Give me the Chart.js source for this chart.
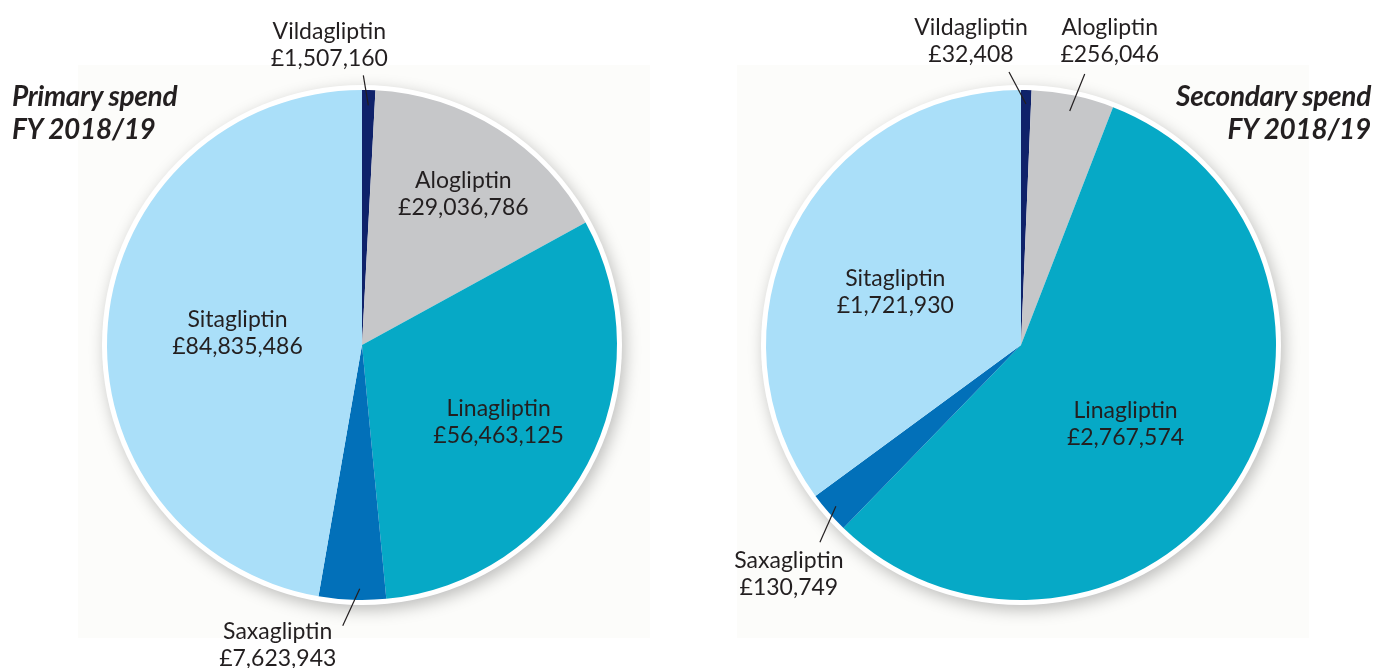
<!DOCTYPE html>
<html>
<head>
<meta charset="utf-8">
<script src="https://cdn.jsdelivr.net/npm/chart.js@4.4.1/dist/chart.umd.min.js"></script>
<style>
    html, body { margin: 0; padding: 0; background: #fff; }
    body { width: 1376px; height: 668px; position: relative; overflow: hidden; font-family: "Lato", sans-serif; }
    .box { position: absolute; top: 0; width: 688px; height: 668px; }
    .title {
        position: absolute; top: 79px; font-weight: 700; font-style: italic;
        font-size: 28px; line-height: 33px; color: #231f20; letter-spacing: -0.3px; z-index: 2;
    }
</style>
</head>
<body>
<div class="box" style="left:0"><canvas id="primaryChart"></canvas></div>
<div class="box" style="left:688px"><canvas id="secondaryChart"></canvas></div>
<div class="title" id="primaryTitle" style="left:12px;text-align:left"></div>
<div class="title" id="secondaryTitle" style="right:5px;text-align:right"></div>

<script>
const drugs = ["Vildagliptin", "Alogliptin", "Linagliptin", "Saxagliptin", "Sitagliptin"];
const primarySpend = [1507160, 29036786, 56463125, 7623943, 84835486];
const secondarySpend = [32408, 256046, 2767574, 130749, 1721930];
const primaryTitle = ["Primary spend", "FY 2018/19"];
const secondaryTitle = ["Secondary spend", "FY 2018/19"];

const colors = ["#0f226a", "#c6c7c9", "#06a9c6", "#0270b9", "#aadff9"];
const textColor = "#231f20";

// where each label sits: inside labels along the slice middle, outside ones with a leader line
const primaryLabels = [
    { out: true, frac: 0.94, dx: 0, dy: 0, lx: -5, ly: -30, tx: -39, ty: -61 },
    { frac: 0.71, dx: 5, dy: 2 },
    { frac: 0.615, dx: -2, dy: 3 },
    { out: true, frac: 0.957, dx: 7, dy: 0, lx: -17, ly: 37, tx: -82, ty: 56 },
    { frac: 0.49, dx: 0, dy: -2 }
];
const secondaryLabels = [
    { out: true, frac: 0.945, dx: 0, dy: 0, lx: -17, ly: -32, tx: -55, ty: -64 },
    { out: true, frac: 0.937, dx: 0, dy: 0, lx: 15, ly: -37, tx: 40, ty: -71 },
    { frac: 0.51, dx: -5, dy: 8 },
    { out: true, frac: 0.963, dx: 0, dy: 0, lx: -16, ly: 36, tx: -47, ty: 67 },
    { frac: 0.535, dx: -4, dy: 8 }
];

function money(v) {
    return "£" + v.toLocaleString("en-GB");
}

const pieDecor = {
    id: "pieDecor",
    beforeDraw(chart) {
        const arc = chart.getDatasetMeta(0).data[0];
        if (!arc) return;
        const { x, y } = arc.getProps(["x", "y"], true);
        const ctx = chart.ctx;
        ctx.save();
        ctx.fillStyle = "#fcfcfa";
        ctx.fillRect(x - 284, y - 280, 572, 573);
        ctx.restore();
    },
    beforeDatasetsDraw(chart) {
        const arc = chart.getDatasetMeta(0).data[0];
        if (!arc) return;
        const { x, y, outerRadius } = arc.getProps(["x", "y", "outerRadius"], true);
        const ctx = chart.ctx;
        ctx.save();
        ctx.shadowColor = "rgba(0,0,0,0.25)";
        ctx.shadowBlur = 16;
        ctx.shadowOffsetX = 3;
        ctx.shadowOffsetY = 5;
        ctx.fillStyle = "#fff";
        ctx.beginPath();
        ctx.arc(x, y, outerRadius + 5, 0, Math.PI * 2);
        ctx.fill();
        ctx.restore();
    },
    afterDatasetsDraw(chart, args, opts) {
        const ctx = chart.ctx;
        const values = chart.data.datasets[0].data;
        ctx.save();
        ctx.font = "23px Lato";
        ctx.fillStyle = textColor;
        ctx.strokeStyle = textColor;
        ctx.lineWidth = 1.2;
        ctx.textAlign = "center";
        ctx.textBaseline = "alphabetic";
        chart.getDatasetMeta(0).data.forEach((arc, i) => {
            const p = arc.getProps(["x", "y", "startAngle", "endAngle", "outerRadius"], true);
            const L = opts.labels[i];
            const mid = (p.startAngle + p.endAngle) / 2;
            const px = p.x + Math.cos(mid) * p.outerRadius * L.frac + L.dx;
            const py = p.y + Math.sin(mid) * p.outerRadius * L.frac + L.dy;
            let cx = px, cy = py;
            if (L.out) {
                ctx.beginPath();
                ctx.moveTo(px, py);
                ctx.lineTo(px + L.lx, py + L.ly);
                ctx.stroke();
                cx = px + L.tx;
                cy = py + L.ty;
            }
            ctx.fillText(chart.data.labels[i], cx, cy - 5.5);
            ctx.fillText(money(values[i]), cx, cy + 21.5);
        });
        ctx.restore();
    }
};

function drawPie(id, values, labels, padding) {
    const ctx = document.getElementById(id).getContext("2d");
    return new Chart(ctx, {
        type: "pie",
        data: {
            labels: drugs,
            datasets: [{
                data: values,
                backgroundColor: colors,
                borderWidth: 0,
                hoverBorderWidth: 0,
                hoverOffset: 0,
                offset: 0
            }]
        },
        options: {
            responsive: true,
            maintainAspectRatio: false,
            devicePixelRatio: 1,
            animation: false,
            events: [],
            layout: { padding: padding },
            plugins: {
                legend: { display: false },
                tooltip: { enabled: false },
                pieDecor: { labels: labels }
            }
        },
        plugins: [pieDecor]
    });
}

document.getElementById("primaryTitle").innerHTML = primaryTitle.join("<br>");
document.getElementById("secondaryTitle").innerHTML = secondaryTitle.join("<br>");

drawPie("primaryChart", primarySpend, primaryLabels, { left: 107, right: 71, top: 90, bottom: 68 });
drawPie("secondaryChart", secondarySpend, secondaryLabels, { left: 78, right: 100, top: 90, bottom: 68 });
</script>
</body>
</html>
